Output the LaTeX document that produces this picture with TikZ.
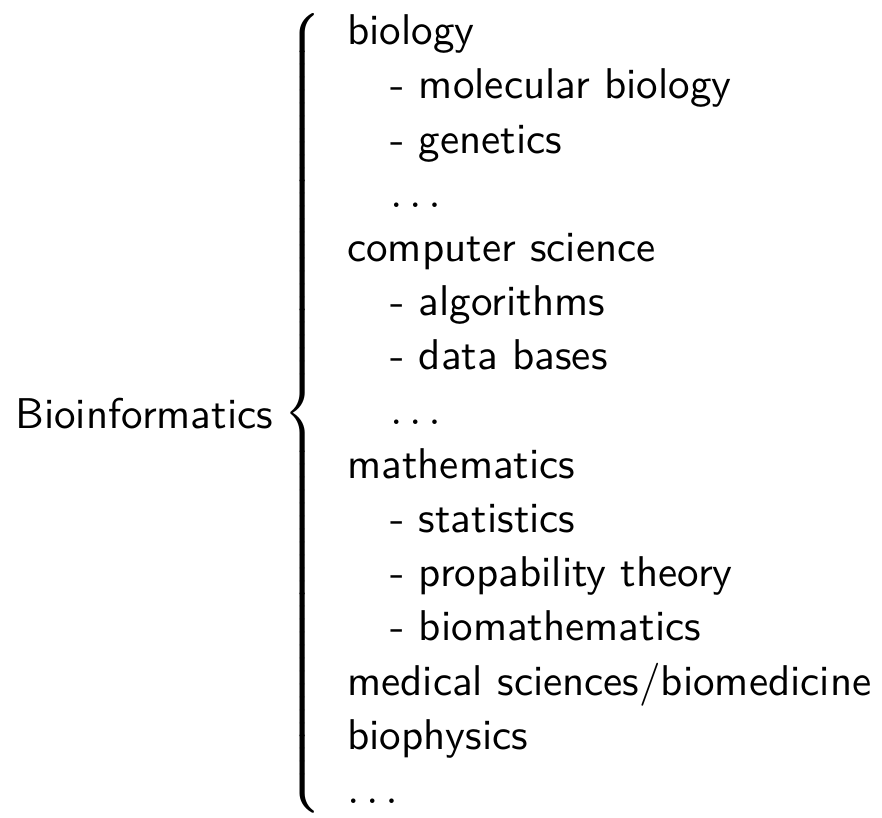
\documentclass[tikz,border=0pt]{standalone}
\usepackage{tikz}
\usetikzlibrary{positioning}
\renewcommand{\familydefault}{\sfdefault}
\renewcommand{\arraystretch}{1.05}

\begin{document}
\begin{tikzpicture}[topic/.style={inner sep=0pt}]
\useasboundingbox (0,-95.05pt) rectangle (205pt,95.05pt);
\node[topic, anchor=west] (field) at (3.4pt,-1pt) {Bioinformatics};
\node[topic, right=2pt of field] (parts) {$\left\{
\begin{tabular}{l}
biology\\
\quad- molecular biology\\
\quad- genetics\\
\quad$\ldots$\\
computer science\\
\quad- algorithms\\
\quad- data bases\\
\quad$\ldots$\\
mathematics\\
\quad- statistics\\
\quad- propability theory\\
\quad- biomathematics\\
medical sciences/biomedicine\\
biophysics\\
$\ldots$
\end{tabular}\right.$};
\end{tikzpicture}
\end{document}
